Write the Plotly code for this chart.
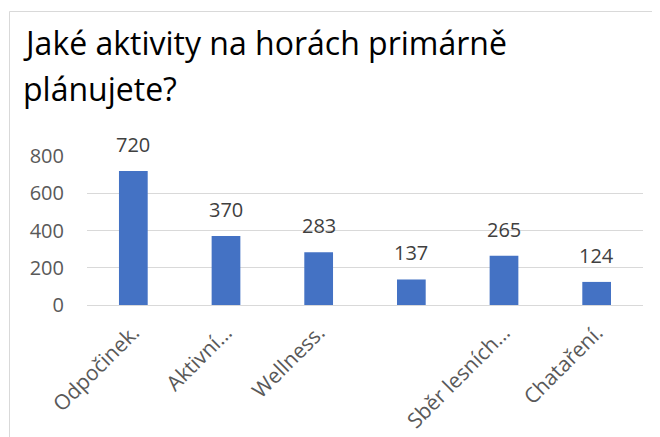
import plotly.graph_objects as go

categories = ["Odpočinek.", "Aktivní…", "Wellness.", " ", "Sběr lesních…", "Chataření."]
values = [720, 370, 283, 137, 265, 124]
title_lines = ["Jaké aktivity na horách primárně", "plánujete?"]
y_ticks = [0, 200, 400, 600, 800]

# page body has an 8px margin, so figure coordinates are offset by 8px
OFF = 8
W, H = 660 - OFF, 437 - OFF
L, R, T, B = 87 - OFF, 17, 156 - OFF, 132
pw, ph = W - L - R, H - T - B

FONT = "Open Sans"
fig = go.Figure(go.Bar(x=categories, y=values, marker=dict(color="#4472C4", line=dict(width=0)),
                       width=0.31, hoverinfo="x+y"))

for c, v in zip(categories, values):
    fig.add_annotation(x=c, y=v, text=str(v), showarrow=False, yanchor="bottom", yshift=11,
                       font=dict(family=FONT, size=20, color="#404040"))

# title lines (baselines at y=55 and y=100 in page coords)
for line, base in zip(title_lines, [55, 101]):
    fig.add_annotation(xref="paper", yref="paper", x=(21 - OFF - L) / pw, y=1 + (T - (base - OFF)) / ph,
                       xanchor="left", yanchor="bottom", text=line, showarrow=False,
                       font=dict(family=FONT, size=32, color="#000000"), yshift=-11)

fig.add_shape(type="rect", xref="paper", yref="paper",
              x0=(9.5 - OFF - L) / pw, x1=(W + 5 - L) / pw,
              y0=-(H + 5 - (T + ph)) / ph, y1=1 + (T - (11.5 - OFF)) / ph,
              line=dict(color="#D9D9D9", width=1), fillcolor="rgba(0,0,0,0)", layer="below")

fig.update_layout(
    width=W, height=H, margin=dict(l=L, r=R, t=T, b=B, autoexpand=False),
    paper_bgcolor="white", plot_bgcolor="white", showlegend=False,
    font=dict(family=FONT, color="#595959"),
    bargap=0.69,
)
fig.update_yaxes(range=[0, 800], tickvals=y_ticks, showgrid=True, gridcolor="#D9D9D9", gridwidth=1,
                 zeroline=False, showline=False, ticks="", tickfont=dict(family=FONT, size=20, color="#595959"),
                 ticklabelstandoff=22)
fig.update_xaxes(showline=True, linecolor="#D9D9D9", linewidth=1, ticks="", tickangle=-45,
                 tickfont=dict(family=FONT, size=21, color="#595959"), ticklabelstandoff=6)

fig.write_html("out.html")
